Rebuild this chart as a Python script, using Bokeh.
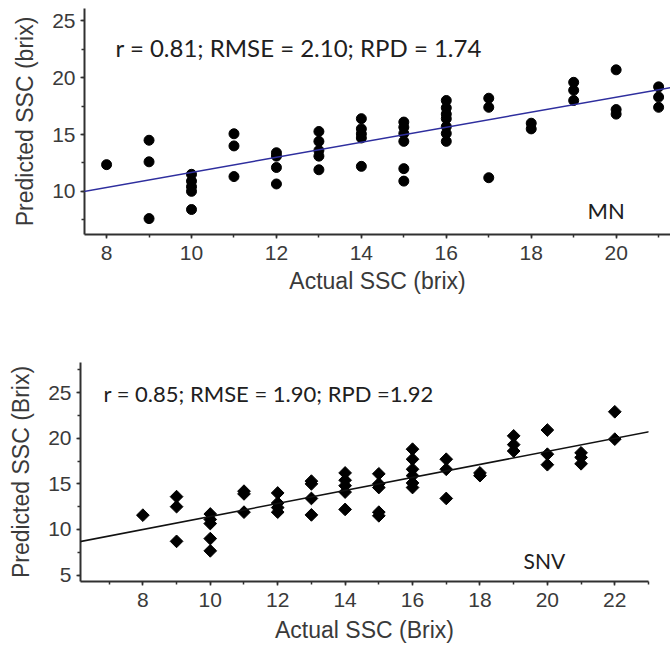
from bokeh.plotting import figure
from bokeh.models import Range1d, SingleIntervalTicker, Slope, Label, ColumnDataSource
from bokeh.embed import file_html
from bokeh.resources import INLINE

# ---------------- data ----------------
mn_x = [8,
        9, 9, 9,
        10, 10, 10, 10, 10,
        11, 11, 11,
        12, 12, 12, 12,
        13, 13, 13, 13, 13,
        14, 14, 14, 14, 14,
        15, 15, 15, 15, 15, 15,
        16, 16, 16, 16, 16, 16, 16,
        17, 17, 17,
        18, 18,
        19, 19, 19,
        20, 20, 20,
        21, 21, 21]
mn_y = [12.35,
        14.5, 12.6, 7.6,
        11.5, 10.9, 10.4, 10.0, 8.4,
        15.07, 14.0, 11.3,
        13.4, 13.1, 12.1, 10.65,
        15.27, 14.4, 13.6, 13.1, 11.9,
        16.4, 15.5, 15.06, 14.7, 12.2,
        16.1, 15.65, 15.1, 14.4, 12.0, 10.9,
        18.0, 17.35, 16.8, 16.4, 15.7, 15.1, 14.4,
        18.2, 17.4, 11.2,
        16.0, 15.5,
        19.6, 18.9, 18.0,
        20.7, 17.2, 16.8,
        19.2, 18.3, 17.4]
mn_fit_slope = 0.662
mn_fit_intercept = 5.05
mn_stats = "r = 0.81; RMSE = 2.10; RPD = 1.74"
mn_tag = "MN"

snv_x = [8,
         9, 9, 9,
         10, 10, 10, 10, 10,
         11, 11, 11,
         12, 12, 12, 12,
         13, 13, 13, 13,
         14, 14, 14, 14, 14,
         15, 15, 15, 15, 15,
         16, 16, 16, 16, 16, 16,
         17, 17, 17,
         18, 18,
         19, 19, 19,
         20, 20, 20,
         21, 21, 21,
         22, 22]
snv_y = [11.57,
         13.6, 12.5, 8.7,
         11.7, 11.1, 10.65, 9.0, 7.66,
         14.2, 13.9, 11.9,
         14.0, 12.9, 12.4, 11.9,
         15.3, 15.0, 13.4, 11.6,
         16.2, 15.4, 14.8, 14.1, 12.2,
         16.1, 15.0, 14.6, 11.9, 11.5,
         18.8, 17.7, 16.6, 15.9, 15.1, 14.6,
         17.7, 16.6, 13.4,
         16.2, 15.9,
         20.26, 19.3, 18.6,
         20.9, 18.25, 17.1,
         18.4, 17.9, 17.2,
         22.9, 19.9]
snv_fit_slope = 0.713
snv_fit_intercept = 4.295
snv_stats = "r = 0.85; RMSE = 1.90; RPD =1.92"
snv_tag = "SNV"

# ---------------- styling ----------------
TICK_FONT = "Liberation Sans"
NOTE_FONT = "Lato"
AX_COLOR = "#303030"
TXT_COLOR = "#3a3a3a"


def style(p, xlabel, ylabel, xlabel_standoff):
    p.outline_line_color = None
    p.xgrid.visible = False
    p.ygrid.visible = False
    for ax in (p.xaxis[0], p.yaxis[0]):
        ax.axis_line_color = AX_COLOR
        ax.axis_line_width = 2
        ax.major_tick_line_color = AX_COLOR
        ax.minor_tick_line_color = AX_COLOR
        ax.major_tick_line_width = 1.5
        ax.minor_tick_line_width = 1.5
        ax.major_tick_in = 0
        ax.major_tick_out = 4
        ax.minor_tick_in = 0
        ax.minor_tick_out = 3
        ax.major_label_text_font = TICK_FONT
        ax.major_label_text_font_size = "21px"
        ax.major_label_text_color = TXT_COLOR
        ax.axis_label_text_font = TICK_FONT
        ax.axis_label_text_font_size = "23px"
        ax.axis_label_text_font_style = "normal"
        ax.axis_label_text_color = TXT_COLOR
    p.xaxis.axis_label = xlabel
    p.yaxis.axis_label = ylabel
    p.xaxis.major_label_standoff = 7
    p.yaxis.major_label_standoff = 5
    p.xaxis.axis_label_standoff = xlabel_standoff
    p.yaxis.axis_label_standoff = 11


# ---------------- top panel (MN) ----------------
p1 = figure(width=670, height=308, output_backend="svg", toolbar_location=None,
            x_range=Range1d(7.48, 21.28), y_range=Range1d(6.2, 26.1),
            min_border_left=84, min_border_right=0, min_border_top=8, min_border_bottom=74)
p1.xaxis.ticker = SingleIntervalTicker(interval=2, num_minor_ticks=2)
p1.yaxis.ticker = SingleIntervalTicker(interval=5, num_minor_ticks=2)
style(p1, "Actual SSC (brix)", "Predicted SSC (brix)", 5)
p1.add_layout(Slope(gradient=mn_fit_slope, y_intercept=mn_fit_intercept,
                    line_color="#2e2e9e", line_width=1.5))
p1.scatter(x="x", y="y", source=ColumnDataSource(dict(x=mn_x, y=mn_y)),
           marker="circle", size=10, fill_color="black", line_color="black")
p1.add_layout(Label(x=31, y=187, x_units="screen", y_units="screen", text=mn_stats,
                    text_font=NOTE_FONT, text_font_size="24px", text_color="#202020",
                    text_baseline="middle"))
p1.add_layout(Label(x=503, y=24, x_units="screen", y_units="screen", text=mn_tag,
                    text_font=NOTE_FONT, text_font_size="22px", text_color="#202020",
                    text_baseline="middle"))

# ---------------- bottom panel (SNV) ----------------
p2 = figure(width=670, height=337, output_backend="svg", toolbar_location=None,
            x_range=Range1d(6.15, 23.0), y_range=Range1d(4.3, 28.3),
            min_border_left=80, min_border_right=22, min_border_top=54, min_border_bottom=64)
p2.xaxis.ticker = SingleIntervalTicker(interval=2, num_minor_ticks=2)
p2.yaxis.ticker = SingleIntervalTicker(interval=5, num_minor_ticks=2)
style(p2, "Actual SSC (Brix)", "Predicted SSC (Brix)", 7)
p2.add_layout(Slope(gradient=snv_fit_slope, y_intercept=snv_fit_intercept,
                    line_color="#111111", line_width=1.5))
p2.scatter(x="x", y="y", source=ColumnDataSource(dict(x=snv_x, y=snv_y)),
           marker="square", angle=0.785398, size=9, fill_color="black", line_color="black")
p2.add_layout(Label(x=23, y=188, x_units="screen", y_units="screen", text=snv_stats,
                    text_font=NOTE_FONT, text_font_size="22px", text_color="#202020",
                    text_baseline="middle"))
p2.add_layout(Label(x=443, y=21, x_units="screen", y_units="screen", text=snv_tag,
                    text_font=NOTE_FONT, text_font_size="21px", text_color="#202020",
                    text_baseline="middle"))

# two independent roots so the frames keep their own borders
open("out.html", "w").write(file_html([p1, p2], INLINE))
